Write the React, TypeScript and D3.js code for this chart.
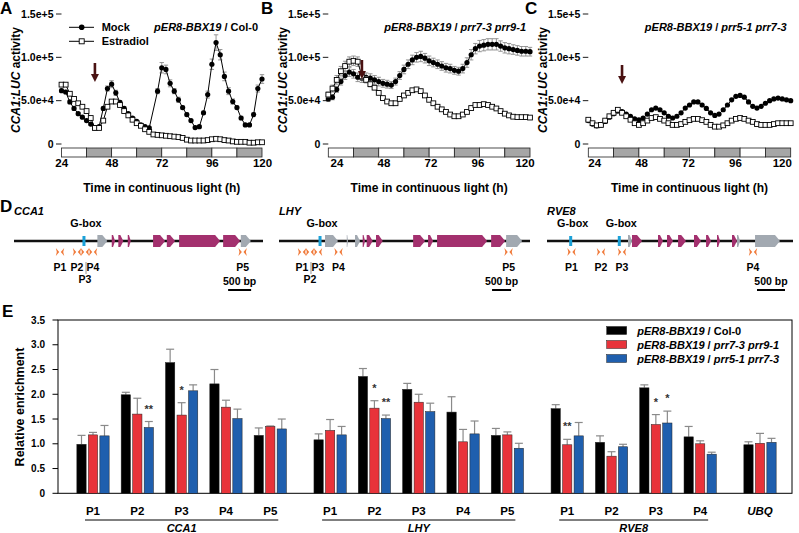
import React from 'react';
import * as d3 from 'd3';

const FONT = '"Liberation Sans", Arial, Helvetica, sans-serif';
const UNIT = 1e4;

// sampling grid (h) and axis labels for A-C
const hours = d3.range(24, 121, 2);
const xTicks = [24, 48, 72, 96, 120];
const yTicks = [0, 50000, 100000, 150000];
const yTickLabels = ['0', '5.0e+4', '1.0e+5', '1.5e+5'];
const nightBlocks = [false, true, false, true, false, true, false, true]; // 12 h blocks from 24 h
const arrowHour = 40;

// CCA1:LUC activity, in 1e4 units
const aMock = [6.15, 6.0, 4.85, 4.1, 3.5, 3.1, 2.7, 2.3, 1.85, 2.0, 4.1, 6.4, 6.9, 5.9, 4.8, 4.1, 3.5, 3.0, 2.6, 2.2, 2.0, 1.85, null, 6.1, 8.8, 8.6, 7.0, 6.1, 5.1, 4.2, 3.4, 2.7, 1.9, 2.0, 3.6, 5.7, 9.2, 11.7, 10.3, 7.8, 6.1, 4.9, 4.2, 3.0, 2.2, 2.2, 3.4, 6.4, 7.5];
const aMockErr = [0.2, 0.2, 0.2, 0.2, 0.15, 0.15, 0.15, 0.15, 0.1, 0.1, 0.2, 0.3, 0.4, 0.3, 0.2, 0.2, 0.15, 0.15, 0.15, 0.1, 0.1, 0.1, null, 0.3, 0.6, 0.5, 0.4, 0.3, 0.3, 0.2, 0.2, 0.15, 0.15, 0.15, 0.2, 0.4, 0.6, 0.9, 0.6, 0.5, 0.4, 0.3, 0.2, 0.2, 0.15, 0.15, 0.2, 0.4, 0.5];
const aEstr = [6.85, 6.85, 5.8, 5.2, 4.7, 4.3, 3.8, 3.0, 1.85, 1.85, 2.7, 4.3, 4.9, 4.9, 4.5, 3.8, 3.3, 2.8, 2.4, 2.1, 1.7, 1.4, 1.1, 1.05, 1.0, 0.95, 0.9, 0.85, 0.8, 0.7, 0.5, 0.4, 0.4, 0.4, 0.4, 0.45, 0.55, 0.6, 0.55, 0.45, 0.4, 0.3, 0.25, 0.25, 0.25, 0.15, 0.15, 0.2, 0.2];

const bMock = [5.2, 5.4, 6.3, 7.2, 7.9, 8.3, 8.1, 7.7, 7.6, 7.7, 7.6, 7.4, 7.2, 7.0, 6.9, 6.8, 7.2, 7.9, 8.6, 9.2, 9.7, 10.0, 10.1, 9.9, 9.6, 9.4, 9.2, 9.0, 8.8, 8.7, 8.5, 8.4, 8.7, 9.4, 10.3, 11.0, 11.3, 11.4, 11.5, 11.5, 11.5, 11.3, 11.1, 11.0, 10.9, 10.8, 10.7, 10.7, 10.65];
const bMockErr = [0.3, 0.3, 0.35, 0.4, 0.45, 0.5, 0.5, 0.5, 0.5, 0.5, 0.5, 0.5, 0.5, 0.45, 0.45, 0.4, 0.4, 0.45, 0.5, 0.5, 0.55, 0.55, 0.6, 0.55, 0.55, 0.5, 0.5, 0.5, 0.5, 0.5, 0.45, 0.45, 0.5, 0.55, 0.6, 0.6, 0.65, 0.65, 0.65, 0.65, 0.65, 0.6, 0.6, 0.6, 0.55, 0.55, 0.55, 0.55, 0.5];
const bEstr = [5.7, 6.4, 7.4, 8.4, 9.0, 9.5, 9.6, 9.5, 7.8, 7.4, 6.9, 6.5, 5.9, 5.3, 4.9, 4.7, 4.7, 5.2, 5.6, 5.9, 6.2, 6.3, 6.1, 5.6, 5.1, 4.7, 4.3, 4.0, 3.7, 3.4, 3.2, 3.2, 3.4, 3.7, 4.15, 4.5, 4.5, 4.6, 4.5, 4.3, 4.1, 3.8, 3.5, 3.3, 3.15, 3.1, 3.1, 3.1, 3.05];
const bEstrErr = [0.3, 0.4, 0.5, 0.55, 0.55, 0.55, 0.55, 0.55, 0.4, 0.35, 0.3, 0.25, 0.2, 0.2, 0.2, 0.2, 0.2, 0.2, 0.2, 0.2, 0.2, 0.2, 0.2, 0.2, 0.2, 0.15, 0.15, 0.15, 0.15, 0.15, 0.15, 0.15, 0.15, 0.15, 0.2, 0.2, 0.2, 0.2, 0.2, 0.2, 0.15, 0.15, 0.15, 0.15, 0.15, 0.15, 0.15, 0.15, 0.15];

const cMock = [2.7, 2.3, 2.1, 2.2, 2.6, 3.1, 3.5, 3.8, 3.75, 3.45, 3.2, 2.9, 2.8, 3.0, 3.45, 3.95, 4.15, 3.95, 3.6, 3.2, 3.0, 3.2, 3.6, 4.15, 4.5, 4.85, 4.85, 4.5, 4.1, 3.6, 3.3, 3.45, 3.95, 4.5, 5.1, 5.5, 5.6, 5.4, 4.85, 4.35, 4.15, 4.35, 4.7, 5.0, 5.2, 5.3, 5.2, 5.1, 5.0];
const cEstr = [2.8, 2.4, 2.15, 2.2, 2.7, 3.2, 3.6, 3.95, 3.6, 3.2, 2.8, 2.4, 2.2, 2.4, 2.7, 3.0, 3.1, 2.9, 2.7, 2.4, 2.2, 2.2, 2.3, 2.55, 2.75, 2.9, 2.9, 2.75, 2.55, 2.2, 2.0, 2.0, 2.15, 2.4, 2.7, 2.9, 3.0, 2.9, 2.7, 2.55, 2.3, 2.2, 2.2, 2.2, 2.3, 2.4, 2.4, 2.4, 2.4];

const genotypeA = [['pER8-BBX19', true], [' / Col-0', false]];
const genotypeB = [['pER8-BBX19', true], [' / ', false], ['prr7-3 prr9-1', true]];
const genotypeC = [['pER8-BBX19', true], [' / ', false], ['prr5-1 prr7-3', true]];

// gene models (bp)
const cca1Features = [[1811, 2028, 'utr'], [2124, 2196, 'cds'], [2267, 2376, 'cds'], [2472, 2537, 'cds'], [3022, 3283, 'cds'], [3320, 3500, 'cds'], [3587, 4478, 'cds'], [4543, 4913, 'cds'], [4928, 5146, 'utr']];
const cca1Primers = [['P1', 1000, 0], ['P2', 1369, 0], ['P3', 1543, 1], ['P4', 1717, 0], ['P5', 4968, 0]];
const lhyFeatures = [[1210, 1552, 'utr'], [1781, 1815, 'utr'], [1999, 2131, 'utr'], [2200, 2262, 'cds'], [2306, 2464, 'cds'], [2551, 2727, 'cds'], [3526, 3842, 'cds'], [3920, 4052, 'cds'], [4157, 5472, 'cds'], [5578, 5946, 'cds'], [5972, 6393, 'utr']];
const lhyPrimers = [['P1', 605, 0], ['P2', 815, 1], ['P3', 1026, 0], ['P4', 1565, 0], ['P5', 6036, 0]];
const rve8Features = [[1447, 1518, 'utr'], [1518, 1697, 'cds'], [1982, 2071, 'cds'], [2143, 2250, 'cds'], [2340, 2482, 'cds'], [2625, 2750, 'cds'], [2840, 2929, 'cds'], [3036, 3090, 'cds'], [3304, 3393, 'cds'], [3393, 3447, 'utr'], [3715, 4161, 'utr']];
const rve8Primers = [['P1', 438, 0], ['P2', 964, 0], ['P3', 1340, 0], ['P4', 3679, 0]];

// ChIP enrichment
const enrichLabels = ['P1', 'P2', 'P3', 'P4', 'P5', 'P1', 'P2', 'P3', 'P4', 'P5', 'P1', 'P2', 'P3', 'P4', 'UBQ'];
const enrichGenes = ['CCA1', 'CCA1', 'CCA1', 'CCA1', 'CCA1', 'LHY', 'LHY', 'LHY', 'LHY', 'LHY', 'RVE8', 'RVE8', 'RVE8', 'RVE8', 'UBQ'];
const col0 = [0.99, 1.99, 2.64, 2.21, 1.17, 1.08, 2.36, 2.10, 1.64, 1.17, 1.71, 1.03, 2.13, 1.14, 0.98];
const col0Err = [0.18, 0.05, 0.27, 0.29, 0.15, 0.12, 0.16, 0.12, 0.31, 0.14, 0.08, 0.13, 0.06, 0.21, 0.06];
const prr79 = [1.18, 1.60, 1.58, 1.74, 1.35, 1.27, 1.72, 1.84, 1.04, 1.18, 0.98, 0.75, 1.39, 1.00, 1.01];
const prr79Err = [0.05, 0.32, 0.25, 0.14, 0.01, 0.22, 0.15, 0.16, 0.25, 0.06, 0.11, 0.09, 0.20, 0.06, 0.20];
const prr57 = [1.16, 1.33, 2.07, 1.51, 1.30, 1.18, 1.51, 1.65, 1.20, 0.91, 1.16, 0.94, 1.42, 0.79, 1.03];
const prr57Err = [0.21, 0.12, 0.12, 0.19, 0.20, 0.17, 0.07, 0.17, 0.26, 0.10, 0.27, 0.05, 0.24, 0.04, 0.08];
const sig79 = ['', '', '*', '', '', '', '*', '', '', '', '**', '', '*', '', ''];
const sig57 = ['', '**', '', '', '', '', '**', '', '', '', '', '', '*', '', ''];
const enrichTicks = [0, 0.5, 1, 1.5, 2, 2.5, 3, 3.5];

const barColors = ['#000000', '#e8333a', '#1f5fae'];
const errGrey = '#8a8a8a';

function Parts({ parts }) {
  return parts.map(([t, it], i) => (
    <tspan key={i} fontStyle={it ? 'italic' : 'normal'}>{t}</tspan>
  ));
}

function TimeCourse({ p }) {
  const x = d3.scaleLinear().domain([24, 120]).range([p.x0, p.x1]);
  const xl = d3.scaleLinear().domain([24, 120]).range(p.labelRange);
  const y = d3.scaleLinear().domain([0, 150000]).range([144, 14]);
  const pts = (vals, errs) => hours.map((h, i) => ({ h, v: vals[i], e: errs ? errs[i] : null })).filter(d => d.v != null);
  const line = d3.line().x(d => x(d.h)).y(d => y(d.v * UNIT));
  const ax = x(arrowHour);
  const series = (vals, errs, kind) => {
    const data = pts(vals, errs);
    return (
      <g>
        {data.filter(d => d.e).map((d, i) => {
          const cx = x(d.h), t = y((d.v + d.e) * UNIT), b = y((d.v - d.e) * UNIT);
          return (
            <g key={i} stroke={errGrey} strokeWidth={0.9}>
              <line x1={cx} x2={cx} y1={t} y2={b} />
              <line x1={cx - 2.2} x2={cx + 2.2} y1={t} y2={t} />
              <line x1={cx - 2.2} x2={cx + 2.2} y1={b} y2={b} />
            </g>
          );
        })}
        <path d={line(data)} fill="none" stroke="#000" strokeWidth={1} />
        {data.map((d, i) => kind === 'circle'
          ? <circle key={i} cx={x(d.h)} cy={y(d.v * UNIT)} r={2.6} fill="#000" />
          : <rect key={i} x={x(d.h) - 2.4} y={y(d.v * UNIT) - 2.4} width={4.8} height={4.8} fill="#fff" stroke="#000" strokeWidth={0.9} />)}
      </g>
    );
  };
  return (
    <g>
      <text x={p.letterX} y={14} fontSize={17} fontWeight={700}>{p.letter}</text>
      {yTicks.map((t, i) => (
        <g key={t}>
          <line x1={p.x0 - 5.5} x2={p.x0} y1={y(t)} y2={y(t)} stroke="#000" strokeWidth={0.9} />
          <text x={p.x0 - 8} y={y(t) + 3.8} fontSize={10.5} fontWeight={700} textAnchor="end">{yTickLabels[i]}</text>
        </g>
      ))}
      <text transform={`translate(${p.x0 - 46},80) rotate(-90)`} textAnchor="middle" fontSize={12} fontWeight={700} dy="0.35em">
        <tspan fontStyle="italic">CCA1:LUC</tspan> activity
      </text>
      <text x={p.x1 - 4} y={31} textAnchor="end" fontSize={11} fontWeight={700}><Parts parts={p.genotype} /></text>
      {series(p.mock, p.mockErr, 'circle')}
      {series(p.estr, p.estrErr, 'square')}
      <rect x={ax - 1.3} y={p.arrowTop} width={2.6} height={12} fill="#4a1212" />
      <path d={`M${ax - 4},${p.arrowTop + 11}L${ax + 4},${p.arrowTop + 11}L${ax},${p.arrowTop + 19}Z`} fill="#4a1212" />
      {nightBlocks.map((dark, i) => (
        <rect key={i} x={x(24 + 12 * i)} y={148} width={x(36 + 12 * i) - x(24 + 12 * i)} height={9}
          fill={dark ? '#a6a6a6' : '#fff'} stroke="#222" strokeWidth={0.8} />
      ))}
      {xTicks.map(t => (
        <text key={t} x={xl(t)} y={167} textAnchor="middle" fontSize={11.5} fontWeight={700}>{t}</text>
      ))}
      <text x={(p.x0 + p.x1) / 2} y={192} textAnchor="middle" fontSize={12} fontWeight={700}>Time in continuous light (h)</text>
      {p.legend && (
        <g fontSize={11} fontWeight={700}>
          <line x1={69} x2={94} y1={27.3} y2={27.3} stroke="#000" />
          <circle cx={81.7} cy={27.3} r={2.8} />
          <text x={101.7} y={31.3}>Mock</text>
          <line x1={69} x2={94} y1={41.3} y2={41.3} stroke="#000" />
          <rect x={79.2} y={38.8} width={5} height={5} fill="#fff" stroke="#000" strokeWidth={0.9} />
          <text x={101.7} y={45.3}>Estradiol</text>
        </g>
      )}
    </g>
  );
}

const panels = [
  { letter: 'A', letterX: 0, x0: 61.5, x1: 262, labelRange: [61.7, 262.5], genotype: genotypeA, mock: aMock, mockErr: aMockErr, estr: aEstr, estrErr: null, arrowTop: 63, legend: true },
  { letter: 'B', letterX: 261, x0: 328.3, x1: 530, labelRange: [337, 525], genotype: genotypeB, mock: bMock, mockErr: bMockErr, estr: bEstr, estrErr: bEstrErr, arrowTop: 60, legend: false },
  { letter: 'C', letterX: 525, x0: 588.3, x1: 790.7, labelRange: [594.7, 782.3], genotype: genotypeC, mock: cMock, mockErr: null, estr: cEstr, estrErr: null, arrowTop: 65, legend: false },
];

const genes = [
  { name: 'CCA1', length: 5410, range: [14, 263], gboxes: [1520], features: cca1Features, primers: cca1Primers, bar: 4652 },
  { name: 'LHY', length: 6600, range: [279, 530], gboxes: [1079], features: lhyFeatures, primers: lhyPrimers, bar: 5602 },
  { name: 'RVE8', length: 4393, range: [547, 793], gboxes: [423, 1291], features: rve8Features, primers: rve8Primers, bar: 3750 },
];

function GeneModel({ g }) {
  const x = d3.scaleLinear().domain([0, g.length]).range(g.range);
  const ly = 241, h = 12;
  return (
    <g>
      <text x={g.range[0]} y={215} fontSize={11} fontWeight={700} fontStyle="italic">{g.name}</text>
      <line x1={x(0)} x2={x(g.length)} y1={ly} y2={ly} stroke="#111" strokeWidth={2.6} />
      {g.features.map(([s, e, t], i) => {
        const x1 = x(s), x2 = x(e), tip = Math.min(5, (x2 - x1) * 0.6);
        return (
          <path key={i} fill={t === 'cds' ? '#a3306e' : '#a2a9b1'}
            d={`M${x1},${ly - h / 2}L${x2 - tip},${ly - h / 2}L${x2},${ly}L${x2 - tip},${ly + h / 2}L${x1},${ly + h / 2}Z`} />
        );
      })}
      {g.gboxes.map((b, i) => (
        <g key={i}>
          <rect x={x(b) - 1.5} y={ly - 5} width={3} height={10} fill="#1ba1d8" />
          <text x={x(b) + 2} y={227} textAnchor="middle" fontSize={10.8} fontWeight={700}>G-box</text>
        </g>
      ))}
      {g.primers.map(([n, bp, row]) => {
        const c = x(bp), py = 252;
        return (
          <g key={n}>
            <path fill="#f07a3a" d={`M${c - 4.2},${py - 4}L${c - 0.8},${py}L${c - 4.2},${py + 4}L${c - 3.2},${py}Z`} />
            <path fill="#f07a3a" d={`M${c + 4.2},${py - 4}L${c + 0.8},${py}L${c + 4.2},${py + 4}L${c + 3.2},${py}Z`} />
            {row === 1 && <line x1={c + 1} x2={c + 1} y1={262} y2={274} stroke="#777" strokeWidth={0.8} />}
            <text x={c} y={row === 1 ? 283 : 271} textAnchor="middle" fontSize={10.5} fontWeight={700}>{n}</text>
          </g>
        );
      })}
      <line x1={x(g.bar)} x2={x(g.bar + 500)} y1={290} y2={290} stroke="#000" strokeWidth={2} />
      <text x={(x(g.bar) + x(g.bar + 500)) / 2} y={285} textAnchor="middle" fontSize={10.5} fontWeight={700}>500 bp</text>
    </g>
  );
}

function Enrichment() {
  const groupIdx = enrichGenes.map(gn => ['CCA1', 'LHY', 'RVE8', 'UBQ'].indexOf(gn));
  const slot = enrichLabels.map((_, i) => i + groupIdx[i] * 0.35);
  const x = d3.scaleLinear().domain([0, 15.05]).range([93, 760]);
  const y = d3.scaleLinear().domain([0, 3.5]).range([493.3, 320]);
  const series = [[col0, col0Err, null], [prr79, prr79Err, sig79], [prr57, prr57Err, sig57]];
  const offsets = [-11.5, 0, 11.5];
  const bw = 9.3;
  const geneGroups = ['CCA1', 'LHY', 'RVE8'].map(gn => {
    const idx = enrichGenes.map((g, i) => (g === gn ? i : -1)).filter(i => i >= 0);
    return { gn, first: x(slot[idx[0]]), last: x(slot[idx[idx.length - 1]]) };
  });
  const legendRows = [genotypeA, genotypeB, genotypeC];
  return (
    <g>
      <text x={2} y={317} fontSize={17} fontWeight={700}>E</text>
      <rect x={58} y={320} width={734} height={173.3} fill="none" stroke="#000" strokeWidth={1} />
      {enrichTicks.map(t => (
        <g key={t}>
          <line x1={52.5} x2={58} y1={y(t)} y2={y(t)} stroke="#000" />
          <text x={45} y={y(t) + 3.6} textAnchor="end" fontSize={10} fontWeight={700}>{t === 0 ? '0' : t.toFixed(1)}</text>
        </g>
      ))}
      <text transform="translate(20,407) rotate(-90)" textAnchor="middle" dy="0.35em" fontSize={12.5} fontWeight={700}>Relative enrichment</text>
      {series.map(([vals, errs, sig], s) => (
        <g key={s}>
          {vals.map((v, i) => {
            const cx = x(slot[i]) + offsets[s];
            const top = y(v + errs[i]);
            return (
              <g key={i}>
                <line x1={cx} x2={cx} y1={y(v)} y2={top} stroke={errGrey} strokeWidth={1.2} />
                <line x1={cx - 4} x2={cx + 4} y1={top} y2={top} stroke={errGrey} strokeWidth={1.2} />
                <rect x={cx - bw / 2} y={y(v)} width={bw} height={y(0) - y(v)} fill={barColors[s]} stroke="#222" strokeWidth={0.5} />
                {sig && sig[i] && <text x={cx} y={top - 9} textAnchor="middle" fontSize={11} fontWeight={700} fill="#333">{sig[i]}</text>}
              </g>
            );
          })}
        </g>
      ))}
      {enrichLabels.map((l, i) => (
        <text key={i} x={x(slot[i])} y={515} textAnchor="middle" fontSize={11.5} fontWeight={700} fontStyle={l === 'UBQ' ? 'italic' : 'normal'}>{l}</text>
      ))}
      {geneGroups.map(g => (
        <g key={g.gn}>
          <line x1={g.first - 8} x2={g.last + 8} y1={520} y2={520} stroke="#000" strokeWidth={1} />
          <text x={(g.first + g.last) / 2} y={532} textAnchor="middle" fontSize={11} fontWeight={700} fontStyle="italic">{g.gn}</text>
        </g>
      ))}
      {legendRows.map((parts, i) => (
        <g key={i}>
          <rect x={606.7} y={326.5 + i * 14} width={20} height={8} fill={barColors[i]} stroke="#222" strokeWidth={0.5} />
          <text x={637.3} y={334.5 + i * 14} fontSize={11} fontWeight={700}><Parts parts={parts} /></text>
        </g>
      ))}
    </g>
  );
}

export default function App() {
  return (
    <svg width={799} height={533} style={{ position: 'absolute', left: 0, top: 0, background: '#fff' }} fontFamily={FONT}>
      {panels.map(p => <TimeCourse key={p.letter} p={p} />)}
      <text x={0} y={212} fontSize={17} fontWeight={700}>D</text>
      {genes.map(g => <GeneModel key={g.name} g={g} />)}
      <Enrichment />
    </svg>
  );
}
